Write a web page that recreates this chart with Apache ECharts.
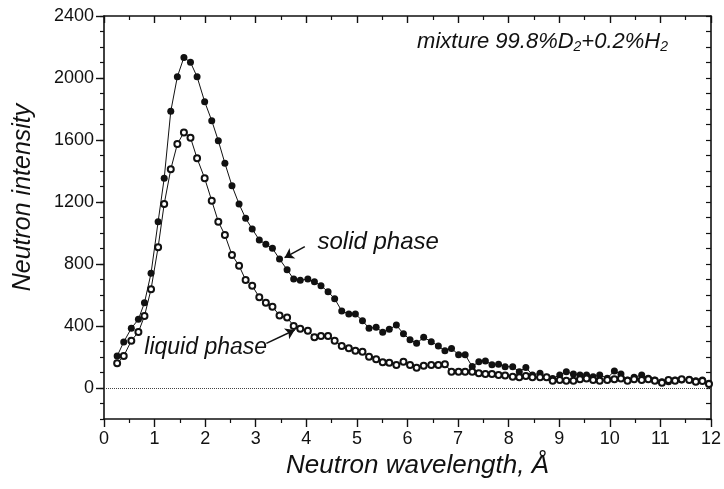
<!DOCTYPE html>
<html><head><meta charset="utf-8">
<script src="https://cdn.jsdelivr.net/npm/echarts@6/dist/echarts.min.js"></script>
<style>html,body{margin:0;padding:0;background:#fff}#c{width:724px;height:489px}</style>
</head><body><div id="c"></div>
<script>
// Neutron wavelength (Å) of each measured point
const wavelength = [0.26,0.39,0.54,0.68,0.80,0.93,1.07,1.19,1.32,1.45,1.58,1.71,1.84,
1.99,2.13,2.26,2.39,2.53,2.67,2.80,2.93,3.07,3.20,3.33,
3.47,3.62,3.75,3.88,4.03,4.16,4.29,4.43,4.56,4.70,4.84,4.97,
5.11,5.24,5.38,5.51,5.64,5.78,5.92,6.05,6.18,6.32,6.47,
6.61,6.74,6.87,7.01,7.14,7.28,7.41,7.54,7.67,7.80,7.93,
8.08,8.21,8.34,8.47,8.62,8.75,8.87,9.01,9.14,9.28,9.41,
9.54,9.67,9.80,9.95,10.09,10.22,10.35,10.48,10.63,10.76,10.89,
11.03,11.16,11.29,11.42,11.57,11.70,11.83,11.96];
// solid phase intensity
const solidPhase = [206,297,385,443,550,740,1073,1353,1785,2008,2133,2101,2008,
1847,1725,1595,1450,1305,1187,1095,1026,955,927,901,
832,763,703,695,703,686,660,621,576,497,477,477,
434,385,392,359,379,406,350,312,288,327,299,
271,240,255,215,214,138,170,175,150,153,137,
137,105,133,84,95,69,62,84,105,90,84,
84,73,84,63,110,90,52,69,84,63,52,
41,41,52,52,56,47,52,30];
// liquid phase intensity
const liquidPhase = [159,206,305,361,464,637,908,1187,1411,1574,1649,1615,1482,
1353,1208,1073,987,858,789,697,660,585,550,525,
468,455,400,382,370,327,335,335,305,271,256,241,
234,202,185,166,163,148,170,148,131,144,148,
148,153,105,105,105,105,95,90,90,84,80,
73,69,77,69,69,69,47,52,47,47,56,
62,52,47,52,56,62,47,56,52,56,47,
34,52,47,56,52,41,45,26];
const yMajorTicks = [0,400,800,1200,1600,2000,2400];

const solidData = wavelength.map((x,i)=>[x, solidPhase[i]]);
const liquidData = wavelength.map((x,i)=>[x, liquidPhase[i]]);

const FONT = 'Liberation Sans, Arial, Helvetica, sans-serif';
const black = '#111';
const chart = echarts.init(document.getElementById('c'));
chart.setOption({
  animation:false,
  backgroundColor:'#fff',
  grid:{left:104, right:12, top:16, bottom:70},
  xAxis:[{
    type:'value', min:0, max:12, interval:1, position:'bottom',
    name:'Neutron wavelength, Å', nameLocation:'middle', nameGap:32,
    nameTextStyle:{fontFamily:FONT, fontSize:26, fontStyle:'italic', color:black, padding:[0,0,0,20]},
    axisLine:{show:true, onZero:false, lineStyle:{color:black, width:1.6}},
    axisTick:{show:true, inside:false, length:8, lineStyle:{color:black, width:1.4}},
    minorTick:{show:true, splitNumber:2, length:4, lineStyle:{color:black, width:1.2}},
    axisLabel:{fontFamily:FONT, fontSize:18, color:black, margin:11},
    splitLine:{show:false}
  },{
    type:'value', min:0, max:12, interval:1, position:'top',
    axisLine:{show:true, onZero:false, lineStyle:{color:black, width:1.6}},
    axisTick:{show:true, inside:true, length:7, lineStyle:{color:black, width:1.4}},
    minorTick:{show:true, splitNumber:2, length:4, lineStyle:{color:black, width:1.2}},
    axisLabel:{show:false}, splitLine:{show:false}
  }],
  yAxis:[{
    type:'value', min:-200, max:2400, interval:100, position:'left',
    name:'Neutron intensity', nameLocation:'middle', nameGap:68,
    nameTextStyle:{fontFamily:FONT, fontSize:25, fontStyle:'italic', color:black, padding:[0,0,0,40]},
    axisLine:{show:true, onZero:false, lineStyle:{color:black, width:1.6}},
    axisTick:{show:true, inside:false, length:4, lineStyle:{color:black, width:1.2}},
    axisLabel:{fontFamily:FONT, fontSize:18, color:black, margin:10,
      formatter:v=> (v%400===0 ? String(v) : '')},
    splitLine:{show:false}
  },{
    type:'value', min:-200, max:2400, position:'left',
    axisLine:{show:false},
    axisTick:{show:true, inside:false, length:8, customValues:yMajorTicks, lineStyle:{color:black, width:1.4}},
    axisLabel:{show:false}, splitLine:{show:false}
  },{
    type:'value', min:-200, max:2400, interval:100, position:'right',
    axisLine:{show:true, onZero:false, lineStyle:{color:black, width:1.6}},
    axisTick:{show:true, inside:true, length:5, lineStyle:{color:black, width:1.2}},
    axisLabel:{show:false}, splitLine:{show:false}
  }],
  series:[{
    name:'solid phase', type:'line', data:solidData,
    symbol:'circle', symbolSize:7,
    itemStyle:{color:black},
    lineStyle:{color:black, width:1},
    z:3,
    markLine:{silent:true, symbol:['none','none'], label:{show:false},
      lineStyle:{type:'dotted', color:'#444', width:1},
      data:[{yAxis:0}]},
    markPoint:{silent:true, symbolSize:0,
      data:[
        {coord:[5.42,942], label:{show:true, formatter:'solid phase', position:'inside',
          fontFamily:FONT, fontSize:24, fontStyle:'italic', color:black}},
        {coord:[8.67,2232], label:{show:true, position:'inside',
          formatter:'mixture 99.8%D{s|2}+0.2%H{s|2}',
          fontFamily:FONT, fontSize:22, fontStyle:'italic', color:black,
          rich:{s:{fontFamily:FONT, fontSize:14, fontStyle:'italic', color:black, padding:[11,0,0,0]}}}}
      ]}
  },{
    name:'liquid phase', type:'line', data:liquidData,
    symbol:'emptyCircle', symbolSize:6,
    itemStyle:{color:black, borderColor:black, borderWidth:1.4},
    lineStyle:{color:black, width:1},
    z:4,
    markLine:{silent:true, symbol:['none','arrow'], symbolSize:9, label:{show:false},
      lineStyle:{type:'solid', color:black, width:1.6},
      data:[
        [{coord:[3.97,912]},{coord:[3.57,841]}],
        [{coord:[3.21,288]},{coord:[3.77,374]}]
      ]},
    markPoint:{silent:true, symbolSize:0,
      data:[
        {coord:[2.01,258], label:{show:true, formatter:'liquid phase', position:'inside',
          fontFamily:FONT, fontSize:23, fontStyle:'italic', color:black}}
      ]}
  }]
});
</script></body></html>
